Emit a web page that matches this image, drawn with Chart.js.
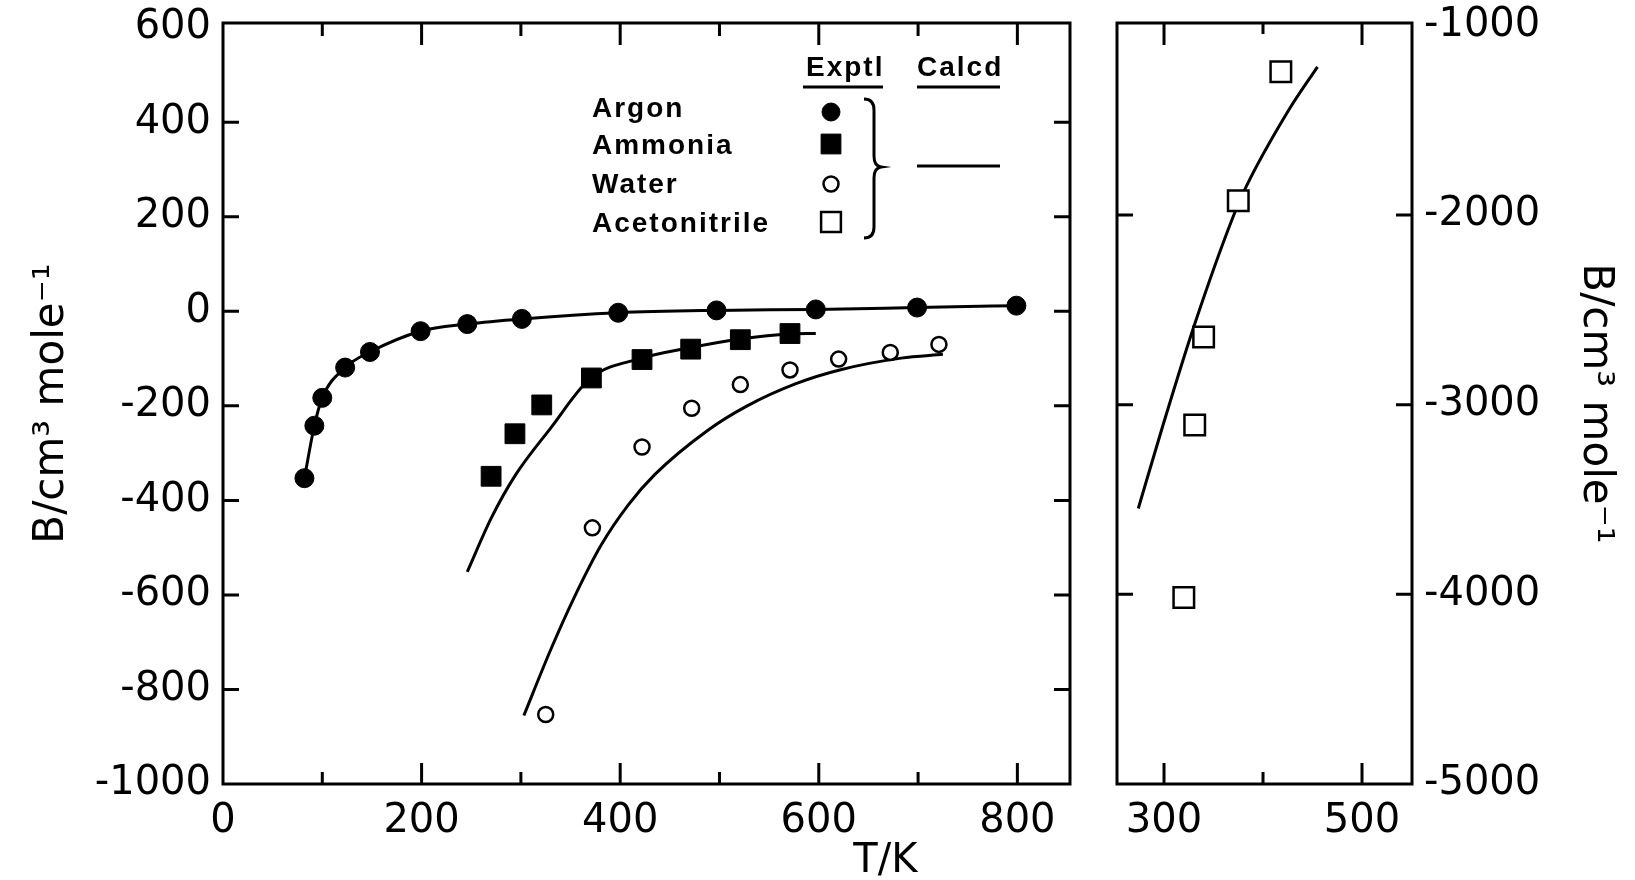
<!DOCTYPE html>
<html><head><meta charset="utf-8">
<script src="https://cdn.jsdelivr.net/npm/chart.js@4.4.1/dist/chart.umd.min.js"></script>
<style>
html,body{margin:0;padding:0;background:#fff;}
#wrap{position:relative;width:1635px;height:880px;overflow:hidden;background:#fff;}
canvas{position:absolute;top:0;}
#c1{left:0;width:1095px;height:880px;}
#c2{left:1095px;width:540px;height:880px;}
</style></head><body>
<div id="wrap"><canvas id="c1" width="1095" height="880"></canvas><canvas id="c2" width="540" height="880"></canvas></div>
<script>
// ---------- data ----------
const argonT = [82, 92, 100, 123, 148, 199, 246, 301, 398, 497, 597, 699, 799];
const argonB = [-353, -242, -183, -119, -86, -42, -27, -16, -3, 2, 4, 8, 12];

const ammoniaExpT = [270, 294, 321, 371, 422, 471, 521, 571];
const ammoniaExpB = [-349, -259, -198, -141, -102, -80, -60, -47];
const ammoniaCalcT = [246, 270, 294, 330, 370, 420, 470, 520, 570, 597];
const ammoniaCalcB = [-551, -438, -348, -247, -142, -100, -77, -59, -48, -47];

const waterExpT = [325, 372, 422, 472, 521, 571, 620, 672, 721];
const waterExpB = [-853, -458, -287, -205, -155, -124, -101, -87, -70];
const waterCalcT = [303, 330, 354, 381, 408, 435, 488, 527, 577, 623, 683, 725];
const waterCalcB = [-855, -716, -604, -494, -410, -345, -252, -201, -153, -123, -99, -91];

const acnExpT = [418, 375, 340, 331, 320];
const acnExpB = [-1244, -1924, -2643, -3107, -4016];
const acnCalcT = [274, 299, 330, 369, 383, 426, 455];
const acnCalcB = [-3547, -3107, -2590, -2019, -1850, -1446, -1218];

// axis ticks and their labels
const leftXTicks = [0, 100, 200, 300, 400, 500, 600, 700, 800];
const leftXLabels = [0, 200, 400, 600, 800];
const leftYTicks = [600, 400, 200, 0, -200, -400, -600, -800, -1000];
const rightXTicks = [300, 400, 500];
const rightXLabels = [300, 500];
const rightYTicks = [-1000, -2000, -3000, -4000, -5000];

const legendNames = ['Argon', 'Ammonia', 'Water', 'Acetonitrile'];
const legendHeads = ['Exptl', 'Calcd'];
const axisTitleY = 'B/cm\u00B3 mole\u207B\u00B9';
const axisTitleX = 'T/K';

// ---------- helpers ----------
const pts = (xs, ys) => xs.map((x, i) => ({x: x, y: ys[i]}));
const BLACK = '#000';
const FAM = "'DejaVu Sans', 'Liberation Sans', sans-serif";
const xTickFont = {family: FAM, size: 40, lineHeight: 1.1};
const yTickFont = {family: FAM, size: 40, lineHeight: 0.5};
const xTitleFont = {family: FAM, size: 40, lineHeight: 0.9};
const yTitleFont = {family: FAM, size: 42, lineHeight: 1.2};
const setTicks = arr => (s => { s.ticks = arr.map(v => ({value: v})); });

const styles = {
  argon:   {pointStyle: 'circle', pointRadius: 9.5, pointBackgroundColor: BLACK, pointBorderColor: BLACK, pointBorderWidth: 1},
  ammonia: {pointStyle: 'rect', pointRadius: 14, pointBackgroundColor: BLACK, pointBorderColor: BLACK, pointBorderWidth: 1},
  water:   {pointStyle: 'circle', pointRadius: 7.5, pointBackgroundColor: '#fff', pointBorderColor: BLACK, pointBorderWidth: 2.5},
  acn:     {pointStyle: 'rect', pointRadius: 14.5, pointBackgroundColor: '#fff', pointBorderColor: BLACK, pointBorderWidth: 2.5}
};

function expSet(label, data, st) {
  return Object.assign({label: label, data: data, showLine: false, pointHoverRadius: st.pointRadius}, st);
}
function calcSet(label, data) {
  return {label: label, data: data, showLine: true, borderColor: BLACK, borderWidth: 3,
          pointRadius: 0, pointHoverRadius: 0, cubicInterpolationMode: 'monotone', fill: false};
}

// inward tick marks + frame, positions taken from the chart's scales
const frameTicks = {
  id: 'frameTicks',
  afterDatasetsDraw(chart, args, opts) {
    const {ctx, chartArea: a} = chart;
    const xs = chart.scales.x, ys = chart.scales.y;
    ctx.save();
    ctx.strokeStyle = BLACK;
    ctx.lineWidth = 3;
    ctx.lineJoin = 'miter';
    ctx.lineCap = 'butt';
    ctx.beginPath();
    xs.ticks.forEach(t => {
      const px = xs.getPixelForValue(t.value);
      if (px < a.left + 8 || px > a.right - 8) return;
      const major = t.label !== '';
      ctx.moveTo(px, a.bottom); ctx.lineTo(px, a.bottom - (major ? opts.xMajor : opts.xMinor));
      ctx.moveTo(px, a.top); ctx.lineTo(px, a.top + (major ? opts.xMajorTop : opts.xMinorTop));
    });
    ys.ticks.forEach(t => {
      const py = ys.getPixelForValue(t.value);
      if (py < a.top + 8 || py > a.bottom - 8) return;
      ctx.moveTo(a.left, py); ctx.lineTo(a.left + opts.yLen, py);
      ctx.moveTo(a.right, py); ctx.lineTo(a.right - opts.yLen, py);
    });
    ctx.stroke();
    ctx.strokeRect(a.left, a.top, a.right - a.left, a.bottom - a.top);
    ctx.restore();
  }
};

// the figure's key (drawn inside the left panel)
const figLegend = {
  id: 'figLegend',
  afterDraw(chart) {
    const ctx = chart.ctx;
    ctx.save();
    ctx.fillStyle = BLACK;
    ctx.strokeStyle = BLACK;
    ctx.textAlign = 'left';
    ctx.textBaseline = 'alphabetic';
    ctx.font = "bold 28px 'Liberation Sans', Arial, sans-serif";
    if ('letterSpacing' in ctx) ctx.letterSpacing = '2px';
    const baselines = [117, 154, 193, 232];
    legendNames.forEach((n, i) => ctx.fillText(n, 592, baselines[i]));
    ctx.fillText(legendHeads[0], 806, 76);
    ctx.fillText(legendHeads[1], 917, 76);
    if ('letterSpacing' in ctx) ctx.letterSpacing = '0px';
    ctx.lineWidth = 3;
    ctx.beginPath();
    ctx.moveTo(803, 87); ctx.lineTo(883, 87);
    ctx.moveTo(917, 87); ctx.lineTo(1000, 87);
    ctx.moveTo(917, 166); ctx.lineTo(1000, 166);
    // brace
    ctx.moveTo(864, 99);
    ctx.quadraticCurveTo(874, 99, 874, 110);
    ctx.lineTo(874, 156);
    ctx.quadraticCurveTo(874, 166, 881, 167);
    ctx.quadraticCurveTo(874, 168, 874, 178);
    ctx.lineTo(874, 227);
    ctx.quadraticCurveTo(874, 238, 864, 238);
    ctx.stroke();
    // markers
    const ys = [112, 144, 184, 222];
    const keys = ['argon', 'ammonia', 'water', 'acn'];
    const rad = [9, 14, 7.5, 14];
    keys.forEach((k, i) => {
      const st = styles[k];
      ctx.fillStyle = st.pointBackgroundColor;
      ctx.strokeStyle = st.pointBorderColor;
      ctx.lineWidth = st.pointBorderWidth;
      Chart.helpers.drawPoint(ctx, {pointStyle: st.pointStyle, radius: rad[i], rotation: 0, borderWidth: st.pointBorderWidth}, 831, ys[i]);
    });
    ctx.restore();
  }
};

Chart.defaults.animation = false;
Chart.defaults.color = BLACK;

// ---------- left panel ----------
new Chart(document.getElementById('c1'), {
  type: 'scatter',
  data: {
    datasets: [
      Object.assign(expSet('Argon', pts(argonT, argonB), styles.argon),
        {showLine: true, borderColor: BLACK, borderWidth: 3, cubicInterpolationMode: 'monotone'}),
      expSet('Ammonia', pts(ammoniaExpT, ammoniaExpB), styles.ammonia),
      expSet('Water', pts(waterExpT, waterExpB), styles.water),
      calcSet('Ammonia calcd', pts(ammoniaCalcT, ammoniaCalcB)),
      calcSet('Water calcd', pts(waterCalcT, waterCalcB))
    ]
  },
  options: {
    responsive: false,
    maintainAspectRatio: false,
    layout: {padding: {left: 0, top: 23, right: 25, bottom: 0}},
    plugins: {legend: {display: false}, tooltip: {enabled: false},
      frameTicks: {xMajor: 21, xMinor: 12, xMajorTop: 22, xMinorTop: 13, yLen: 16}},
    scales: {
      x: {
        type: 'linear', min: 0, max: 853,
        grid: {display: false}, border: {display: false},
        afterBuildTicks: setTicks(leftXTicks),
        ticks: {autoSkip: false, maxRotation: 0, minRotation: 0, padding: 8,
                font: xTickFont, color: BLACK,
                callback: v => leftXLabels.includes(v) ? String(v) : ''},
        title: {display: true, text: axisTitleX + '\u00A0'.repeat(12), align: 'end', font: xTitleFont, color: BLACK,
                padding: {top: 0, bottom: 0}},
        afterFit: s => { s.height = 96; }
      },
      y: {
        type: 'linear', min: -1000, max: 610,
        grid: {display: false}, border: {display: false},
        afterBuildTicks: setTicks(leftYTicks),
        ticks: {autoSkip: false, padding: 4, font: yTickFont, color: BLACK,
                callback: v => String(v)},
        title: {display: true, text: axisTitleY, font: yTitleFont, color: BLACK, padding: {top: 27, bottom: 0}},
        afterFit: s => { s.width = 223; }
      }
    }
  },
  plugins: [frameTicks, figLegend]
});

// ---------- right panel (acetonitrile) ----------
new Chart(document.getElementById('c2'), {
  type: 'scatter',
  data: {
    datasets: [
      expSet('Acetonitrile', pts(acnExpT, acnExpB), styles.acn),
      calcSet('Acetonitrile calcd', pts(acnCalcT, acnCalcB))
    ]
  },
  options: {
    responsive: false,
    maintainAspectRatio: false,
    layout: {padding: {left: 22, top: 23, right: 0, bottom: 0}},
    plugins: {legend: {display: false}, tooltip: {enabled: false},
      frameTicks: {xMajor: 21, xMinor: 12, xMajorTop: 22, xMinorTop: 11, yLen: 16}},
    scales: {
      x: {
        type: 'linear', min: 252.5, max: 550.5,
        grid: {display: false}, border: {display: false},
        afterBuildTicks: setTicks(rightXTicks),
        ticks: {autoSkip: false, maxRotation: 0, minRotation: 0, padding: 8,
                font: xTickFont, color: BLACK,
                callback: v => rightXLabels.includes(v) ? String(v) : ''},
        afterFit: s => { s.height = 96; }
      },
      y: {
        type: 'linear', position: 'right', min: -5000, max: -987,
        grid: {display: false}, border: {display: false},
        afterBuildTicks: setTicks(rightYTicks),
        ticks: {autoSkip: false, padding: 4, font: yTickFont, color: BLACK,
                callback: v => String(v)},
        title: {display: true, text: axisTitleY, font: yTitleFont, color: BLACK, padding: {top: 15, bottom: 0}},
        afterFit: s => { s.width = 223; }
      }
    }
  },
  plugins: [frameTicks]
});
</script>
</body></html>
